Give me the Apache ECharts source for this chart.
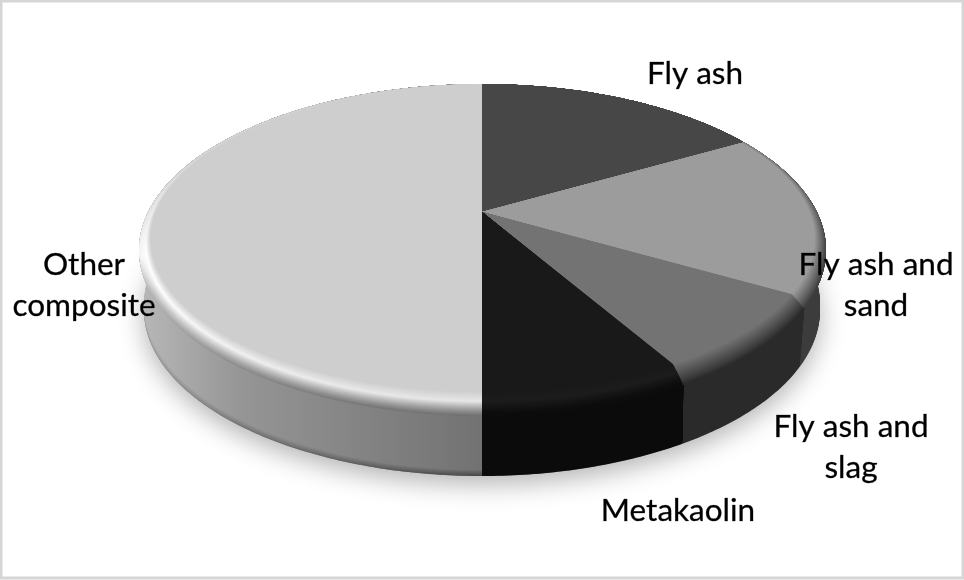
<!DOCTYPE html>
<html><head><meta charset="utf-8">
<style>html,body{margin:0;padding:0;background:#fff}#c{width:964px;height:580px}</style>
<script src="https://cdn.jsdelivr.net/npm/echarts@6/dist/echarts.min.js"></script>
</head><body><div id="c"></div>
<script>
var categories = ['Fly ash', 'Fly ash and\nsand', 'Fly ash and\nslag', 'Metakaolin', 'Other\ncomposite'];
var values = [2, 2, 1, 1, 6];

var topColors  = ['#474747', '#9c9c9c', '#737373', '#191919', '#cecece'];
var wallLeft   = ['#333333', '#3c3c3c', '#2a2a2a', '#0b0b0b', '#b8b8b8'];
var wallRight  = ['#333333', '#3c3c3c', '#2a2a2a', '#0b0b0b', '#727272'];
var rimYs      = [84, 170, 255, 290, 416];
var rimEdge    = [
  ['#474747', '#474747', '#3c3c3c', '#3c3c3c', '#3c3c3c'],
  ['#9c9c9c', '#6e6e6e', '#3c3c3c', '#3c3c3c', '#3c3c3c'],
  ['#2a2a2a', '#2a2a2a', '#2a2a2a', '#2a2a2a', '#2a2a2a'],
  ['#0b0b0b', '#0b0b0b', '#0b0b0b', '#0b0b0b', '#0b0b0b'],
  ['#cecece', '#d2d2d2', '#f6f6f6', '#b8b8b8', '#727272']
];
var rimHigh    = [
  null, null, null,
  ['#1c1c1c', '#1c1c1c', '#1c1c1c', '#1c1c1c', '#1c1c1c'],
  ['#cecece', '#dadada', '#ffffff', '#ffffff', '#e4e4e4']
];
var seamShiftDeg = [0, 0, 3, 1.8, 0, 0];
var labelX     = [695, 876, 851, 678, 84];
var labelY     = [74, 285.5, 447, 510.5, 285.5];

var apex = {x: 482, y: 212};
var persp = {A: 335, B: 154};
var outer = {cx: 482.5, cy: 250, rx: 343.5, ry: 166};
var inner = {cx: 482.5, cy: 239, rx: 332, ry: 153};
var foot  = {cx: 482, cy: 310, rx: 338, ry: 166};
var footDrop = 60;
var total = values.reduce(function (a, b) { return a + b; }, 0);
var BEVEL_STEPS = 26, FOOT_STEPS = 8;

function hex(c) { return [1, 3, 5].map(function (i) { return parseInt(c.substr(i, 2), 16); }); }
function mix(a, b, t) {
  var p = hex(a), q = hex(b);
  return '#' + p.map(function (v, i) {
    var n = Math.round(v + (q[i] - v) * t).toString(16);
    return n.length < 2 ? '0' + n : n;
  }).join('');
}
function hit(ang, e, ay) {
  var dx = persp.A * Math.sin(ang), dy = -persp.B * Math.cos(ang);
  var ox = (apex.x - e.cx) / e.rx, oy = (ay - e.cy) / e.ry;
  var ux = dx / e.rx, uy = dy / e.ry;
  var a = ux * ux + uy * uy, b = 2 * (ox * ux + oy * uy), c = ox * ox + oy * oy - 1;
  var s = (-b + Math.sqrt(b * b - 4 * a * c)) / (2 * a);
  return [apex.x + s * dx, ay + s * dy];
}
function lerpE(a, b, t) {
  return {cx: a.cx + (b.cx - a.cx) * t, cy: a.cy + (b.cy - a.cy) * t, rx: a.rx + (b.rx - a.rx) * t, ry: a.ry + (b.ry - a.ry) * t};
}
function range(i, q) {
  var s = 0;
  for (var k = 0; k < i; k++) s += values[k];
  var rad = Math.PI / 180;
  return [s / total * 2 * Math.PI + seamShiftDeg[i] * q * rad,
          (s + values[i]) / total * 2 * Math.PI + seamShiftDeg[i + 1] * q * rad];
}
function arc(a0, a1, e, ay) {
  var n = Math.max(4, Math.ceil((a1 - a0) / 0.012)), pts = [];
  for (var k = 0; k <= n; k++) pts.push(hit(a0 + (a1 - a0) * k / n, e, ay));
  return pts;
}
function gradX(l, r) {
  return new echarts.graphic.LinearGradient(139, 0, 482, 0, [{offset: 0, color: l}, {offset: 0.3, color: mix(l, r, 0.5)}, {offset: 1, color: r}], true);
}
function poly(points, fill) {
  return {type: 'polygon', shape: {points: points}, style: {fill: fill, stroke: null}};
}

function renderWall(params, api) {
  var i = params.dataIndex, r = range(i, 1), kids = [];
  if (i === 0) {
    kids.push({type: 'polygon', shape: {points: arc(0, 2 * Math.PI, foot, apex.y + footDrop)},
      style: {fill: '#777', shadowBlur: 26, shadowColor: 'rgba(0,0,0,0.3)', shadowOffsetY: 8}});
  }
  var top = arc(r[0], r[1], outer, apex.y);
  for (var k = 0; k <= FOOT_STEPS; k++) {
    var f = k / FOOT_STEPS;
    var e = {cx: foot.cx, cy: foot.cy - f * 6, rx: foot.rx, ry: foot.ry};
    var low = arc(r[0], r[1], e, apex.y + footDrop - f * 6).reverse();
    var dark = i === 4 ? f : 1;
    kids.push(poly(top.concat(low), gradX(mix('#a0a0a0', wallLeft[i], dark), mix('#484848', wallRight[i], dark))));
  }
  return {type: 'group', children: kids};
}

function bevelColor(edge, high, face, t) {
  if (high) {
    if (t < 0.6) return mix(edge, high, Math.pow(t / 0.6, 1.2));
    return mix(high, face, Math.pow((t - 0.6) / 0.4, 0.9));
  }
  return mix(edge, face, Math.pow(t, 0.9));
}
function gradRim(i, t) {
  var stops = rimYs.map(function (y, j) {
    return {
      offset: (y - rimYs[0]) / (rimYs[rimYs.length - 1] - rimYs[0]),
      color: bevelColor(rimEdge[i][j], rimHigh[i] ? rimHigh[i][j] : null, topColors[i], t)
    };
  });
  return new echarts.graphic.LinearGradient(0, rimYs[0], 0, rimYs[rimYs.length - 1], stops, true);
}
function renderTop(params, api) {
  var i = params.dataIndex, kids = [];
  for (var k = 0; k <= BEVEL_STEPS; k++) {
    var t = k / BEVEL_STEPS, e = lerpE(outer, inner, t), r = range(i, 1 - t);
    var pts = [[apex.x, apex.y]].concat(arc(r[0], r[1], e, apex.y));
    kids.push(poly(pts, gradRim(i, t)));
  }
  return {type: 'group', children: kids};
}
function renderLabel(params, api) {
  var i = params.dataIndex;
  return {type: 'text', x: labelX[i], y: labelY[i], style: {
    text: categories[i], fill: '#000', align: 'center', verticalAlign: 'middle',
    font: '31.5px Lato', lineHeight: 41, stroke: 'rgba(0,0,0,0.55)', lineWidth: 0.5
  }};
}

var chart = echarts.init(document.getElementById('c'), null, {renderer: 'canvas'});
chart.setOption({
  animation: false,
  backgroundColor: '#ffffff',
  tooltip: {show: false},
  graphic: [{type: 'rect', z: 100, silent: true, shape: {x: 1, y: 1, width: 962, height: 577},
    style: {fill: null, stroke: '#d6d6d6', lineWidth: 3}}],
  series: [
    {type: 'custom', coordinateSystem: 'none', silent: true, z: 1, data: values, renderItem: renderWall},
    {type: 'custom', coordinateSystem: 'none', silent: true, z: 2, data: values, renderItem: renderTop},
    {type: 'custom', coordinateSystem: 'none', silent: true, z: 3, data: values, renderItem: renderLabel}
  ]
});
</script></body></html>
